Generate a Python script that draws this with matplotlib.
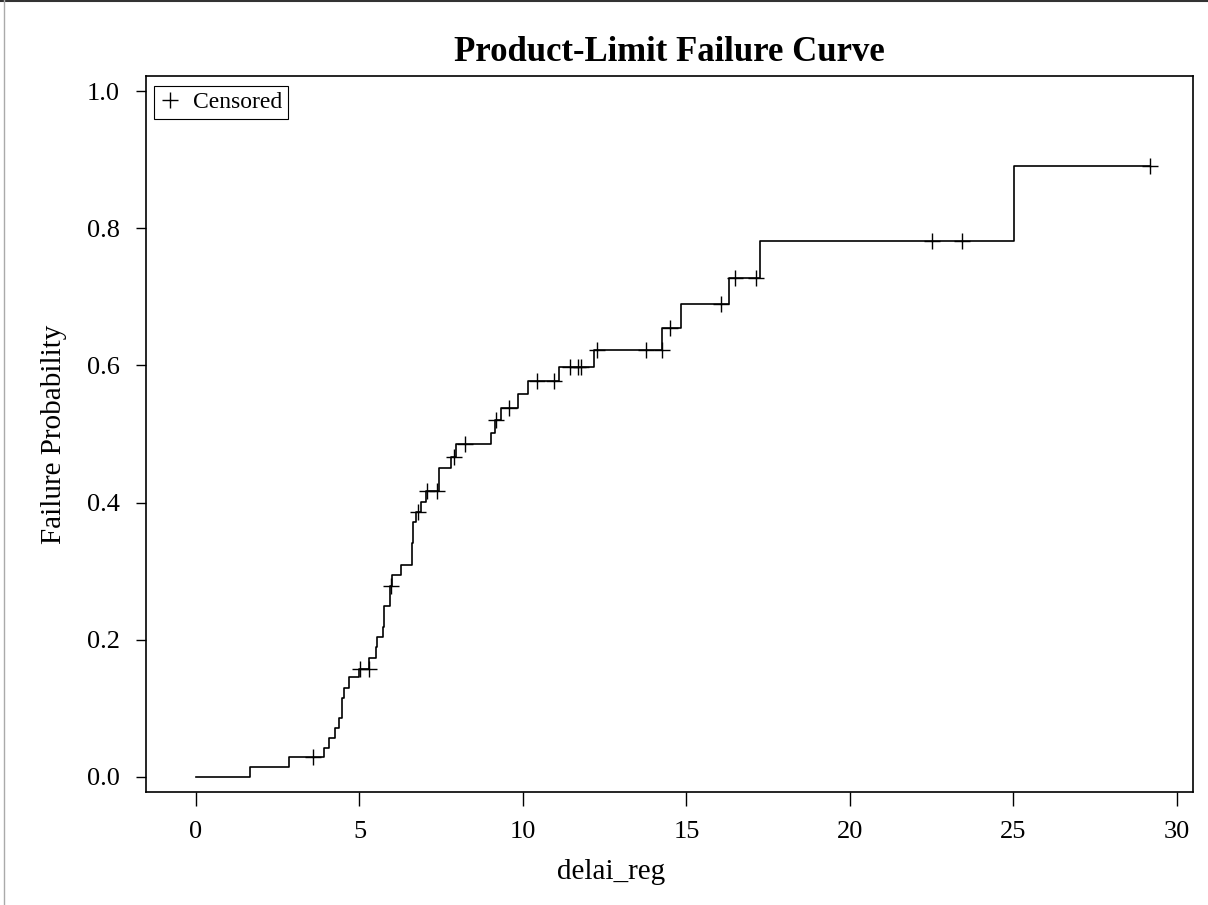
import numpy as np
import matplotlib
matplotlib.use("Agg")
import matplotlib.pyplot as plt
from matplotlib.lines import Line2D

# Product-limit (Kaplan-Meier) failure curve
event_times = [0, 1.65, 2.84, 3.92, 4.08, 4.25, 4.38, 4.47, 4.53, 4.69, 5.00,
               5.30, 5.49, 5.53, 5.71, 5.75, 5.93, 5.94, 6.00, 6.27, 6.62, 6.65,
               6.74, 6.88, 7.02, 7.44, 7.80, 7.95, 9.01, 9.14, 9.32, 9.84, 10.14,
               11.11, 12.17, 14.26, 14.85, 16.30, 17.26, 25.02]
failure_prob = [0.0, 0.0146, 0.0287, 0.0427, 0.0573, 0.0718, 0.0864, 0.115,
                0.129, 0.145, 0.158, 0.173, 0.189, 0.204, 0.219, 0.249, 0.264,
                0.278, 0.294, 0.309, 0.341, 0.371, 0.386, 0.401, 0.417, 0.451,
                0.467, 0.485, 0.502, 0.520, 0.538, 0.558, 0.577, 0.598, 0.623,
                0.655, 0.689, 0.728, 0.782, 0.891]
censor_times = [3.58, 5.02, 5.28, 5.96, 6.78, 7.05, 7.36, 7.89, 8.24, 9.17,
                9.57, 10.42, 10.95, 11.44, 11.69, 11.77, 12.27, 13.75, 14.24,
                14.50, 16.05, 16.50, 17.13, 22.51, 23.43, 29.17]
x_ticks = [0, 5, 10, 15, 20, 25, 30]
y_ticks = [0.0, 0.2, 0.4, 0.6, 0.8, 1.0]

plt.rcParams['font.family'] = ['Liberation Serif', 'DejaVu Serif']

fig = plt.figure(figsize=(12.08, 9.05), dpi=100)
ax = fig.add_axes([0.1209, 0.1249, 0.8667, 0.7911])

# step curve, carried out to the last censored time
xs = list(event_times) + [max(censor_times)]
ys = list(failure_prob) + [failure_prob[-1]]
ax.step(xs, ys, where='post', color='black', linewidth=1.2)

# censored marks sit on the curve
idx = np.searchsorted(event_times, censor_times, side='right') - 1
censor_y = np.array(failure_prob)[idx]
ax.plot(censor_times, censor_y, linestyle='none', marker='+', markersize=11,
        markeredgewidth=1.0, color='black')

ax.set_xlim(-1.53, 30.5)
ax.set_ylim(-0.0219, 1.0219)
ax.set_xticks(x_ticks)
ax.set_yticks(y_ticks)
ax.set_yticklabels([f"{v:.1f}" for v in y_ticks])
ax.tick_params(axis='x', length=10, width=1, pad=11, labelsize=19)
ax.tick_params(axis='y', length=7, width=1, pad=12, labelsize=19)
for s in ax.spines.values():
    s.set_linewidth(1.2)

ax.set_title('Product-Limit Failure Curve', fontsize=25, fontweight='bold', pad=11)
ax.set_xlabel('delai_reg', fontsize=21)
ax.xaxis.set_label_coords(0.444, -0.094)
ax.set_ylabel('Failure Probability', fontsize=21, labelpad=14)

handle = Line2D([], [], linestyle='none', marker='+', markersize=11,
                markeredgewidth=1.0, color='black')
leg = ax.legend([handle], ['Censored'], loc='upper left', fontsize=17,
                bbox_to_anchor=(0.003, 0.993), fancybox=False, framealpha=1,
                edgecolor='black', handlelength=0.9, handletextpad=0.5,
                borderpad=0.25, borderaxespad=0.2)
leg.get_frame().set_linewidth(0.8)

# page border lines
fig.add_artist(Line2D([0, 1], [0.999, 0.999], transform=fig.transFigure,
                      color='#333333', linewidth=1.5))
fig.add_artist(Line2D([0.003, 0.003], [0, 1], transform=fig.transFigure,
                      color='#aaaaaa', linewidth=1.0))

fig.savefig('out.png', dpi=100)
